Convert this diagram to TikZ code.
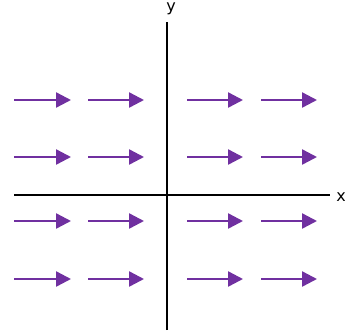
\documentclass[tikz,border=0pt]{standalone}
\usepackage{fontspec}
\setmainfont{DejaVu Sans}
\usetikzlibrary{arrows.meta}
\definecolor{vpurple}{HTML}{7030A0}
\tikzset{
  axis/.style={draw=black, line width=2pt},
  vec/.style={draw=vpurple, line width=2.4pt, -{Triangle[length=15pt,width=15pt]}},
  lbl/.style={font=\fontsize{16pt}{18pt}\selectfont, inner sep=0pt}
}
\begin{document}
\begin{tikzpicture}[x=1pt,y=-1pt]
\useasboundingbox (0,0) rectangle (345,330);
\coordinate (ytop) at (167,22);
\coordinate (ybot) at (167,330);
\coordinate (xleft) at (14,195);
\coordinate (xright) at (330,195);
\draw[axis] (ybot) -- (ytop);
\draw[axis] (xleft) -- (xright);
\node[lbl] (ylab) at (171,9) {y};
\node[lbl] (xlab) at (341,197) {x};
\foreach \r/\yy in {1/100,2/157,3/221,4/279}{
  \foreach \c/\xa/\xb in {1/14/71,2/88/144,3/187/243,4/261/317}{
    \coordinate (s\r\c) at (\xa,\yy);
    \coordinate (e\r\c) at (\xb,\yy);
    \draw[vec] (s\r\c) -- (e\r\c);
  }
}
\end{tikzpicture}
\end{document}
